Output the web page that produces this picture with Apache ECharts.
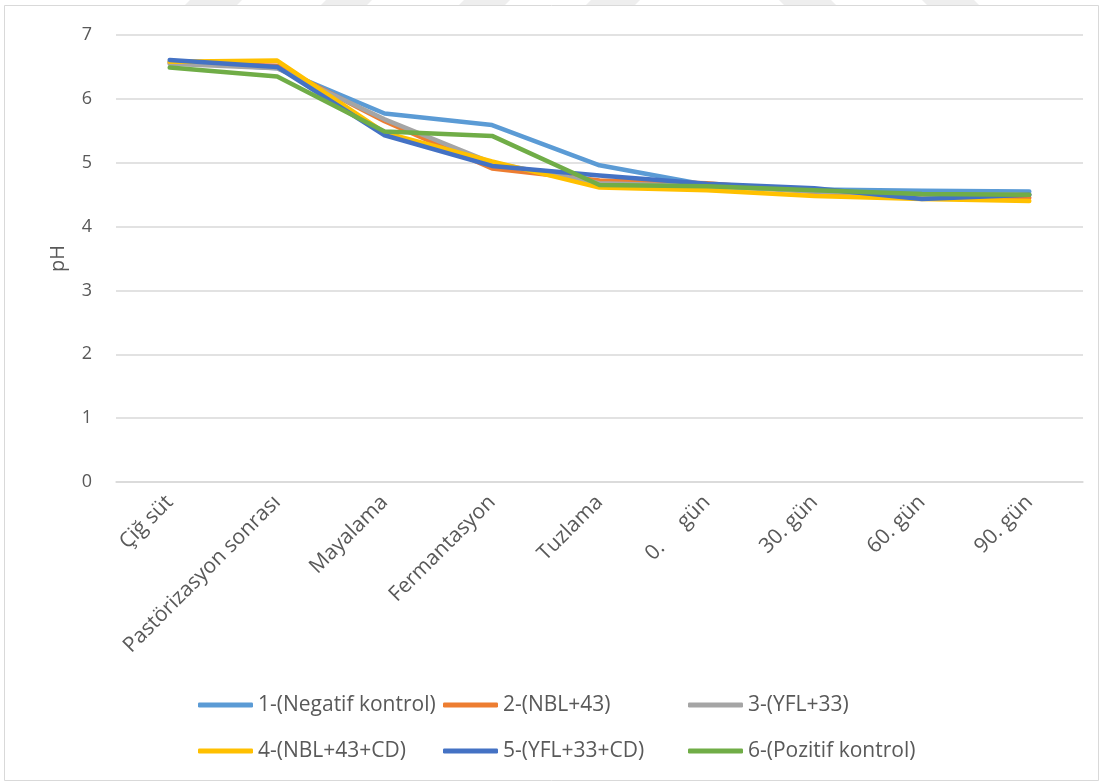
<!DOCTYPE html>
<html>
<head>
<meta charset="utf-8">
<script src="https://cdn.jsdelivr.net/npm/echarts@6/dist/echarts.min.js"></script>
<style>
  html, body { margin: 0; padding: 0; background: #ffffff; }
  #chart { width: 1102px; height: 783px; }
</style>
</head>
<body>
<div id="chart"></div>
<script>
// Processing stages and storage days
const categories = ['Çiğ süt', 'Pastörizasyon sonrası', 'Mayalama', 'Fermantasyon', 'Tuzlama', '0.     gün', '30. gün', '60. gün', '90. gün'];

// pH values per sample group
const negatifKontrol = [6.58, 6.48, 5.77, 5.59, 4.96, 4.65, 4.58, 4.56, 4.55];
const nbl43          = [6.56, 6.52, 5.65, 4.91, 4.72, 4.68, 4.54, 4.47, 4.45];
const yfl33          = [6.55, 6.48, 5.68, 5.00, 4.68, 4.63, 4.55, 4.50, 4.50];
const nbl43cd        = [6.58, 6.60, 5.47, 5.02, 4.61, 4.57, 4.48, 4.43, 4.40];
const yfl33cd        = [6.61, 6.50, 5.43, 4.95, 4.80, 4.67, 4.60, 4.43, 4.50];
const pozitifKontrol = [6.49, 6.35, 5.49, 5.42, 4.65, 4.63, 4.57, 4.51, 4.50];

const seriesNames = ['1-(Negatif kontrol)', '2-(NBL+43)', '3-(YFL+33)', '4-(NBL+43+CD)', '5-(YFL+33+CD)', '6-(Pozitif kontrol)'];
const seriesData = [negatifKontrol, nbl43, yfl33, nbl43cd, yfl33cd, pozitifKontrol];
const colors = ['#5B9BD5', '#ED7D31', '#A5A5A5', '#FFC000', '#4472C4', '#70AD47'];

const yTicks = [0, 1, 2, 3, 4, 5, 6, 7];

const FONT = 'Open Sans';
const TEXT = '#595959';

// legend placement: three columns, two rows
const legendPos = [
  [198, 693], [443, 693], [688, 693],
  [198, 739], [443, 739], [688, 739]
];

// faint page stripes along the top edge: [left, right, slant]
const stripes = [
  [185, 242, 1], [321, 372, 1], [459, 510, 1], [586, 640, 1],
  [779, 836, -1], [922, 979, -1]
];

const stripeGraphics = stripes.map(([a, b, s]) => ({
  type: 'polygon',
  silent: true,
  shape: {
    points: s > 0
      ? [[a, 5], [b - 5, 5], [b, 0], [a + 5, 0]]
      : [[a, 0], [b - 5, 0], [b, 5], [a + 5, 5]]
  },
  style: { fill: '#eeeeee' }
}));

const chart = echarts.init(document.getElementById('chart'), null, { renderer: 'canvas' });

const option = {
  backgroundColor: '#ffffff',
  animation: false,
  color: colors,
  textStyle: { fontFamily: FONT },
  grid: { left: 116, right: 19, top: 35, bottom: 301, containLabel: false },
  graphic: stripeGraphics.concat([
    {
      type: 'rect',
      shape: { x: 4.5, y: 5.5, width: 1094, height: 775 },
      style: { fill: 'none', stroke: '#d9d9d9', lineWidth: 1 },
      silent: true
    }
  ]),
  legend: seriesNames.map((n, i) => ({
    data: [n],
    left: legendPos[i][0],
    top: legendPos[i][1],
    orient: 'horizontal',
    icon: 'roundRect',
    itemWidth: 55,
    itemHeight: 5,
    itemGap: 0,
    padding: 0,
    selectedMode: false,
    textStyle: { fontFamily: FONT, fontSize: 21, lineHeight: 24, color: TEXT }
  })),
  xAxis: {
    type: 'category',
    data: categories,
    boundaryGap: true,
    axisLine: { show: true, lineStyle: { color: '#d9d9d9', width: 1.5 } },
    axisTick: { show: false },
    axisLabel: {
      rotate: 45,
      interval: 0,
      margin: 17,
      fontFamily: FONT,
      fontSize: 21,
      color: TEXT
    },
    splitLine: { show: false }
  },
  yAxis: {
    type: 'value',
    min: yTicks[0],
    max: yTicks[yTicks.length - 1],
    interval: 1,
    name: 'pH',
    nameLocation: 'middle',
    nameGap: 48,
    nameRotate: 90,
    nameTextStyle: { fontFamily: FONT, fontSize: 20, color: TEXT },
    axisLine: { show: false },
    axisTick: { show: false },
    axisLabel: { margin: 24, fontFamily: FONT, fontSize: 18, color: TEXT },
    splitLine: { show: true, lineStyle: { color: '#d9d9d9', width: 1.5 } }
  },
  series: seriesNames.map((n, i) => ({
    name: n,
    type: 'line',
    data: seriesData[i],
    symbol: 'none',
    smooth: false,
    lineStyle: { width: 4.5, color: colors[i], cap: 'round', join: 'round' },
    itemStyle: { color: colors[i] }
  }))
};

chart.setOption(option);
</script>
</body>
</html>
